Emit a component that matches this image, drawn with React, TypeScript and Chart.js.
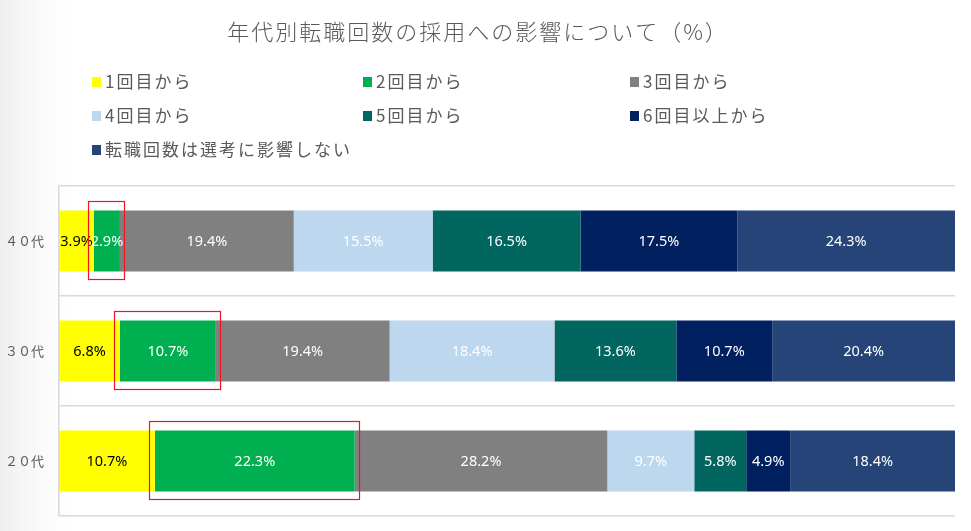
import React, { useEffect, useRef } from "react";
import { Chart, registerables } from "chart.js";

Chart.register(...registerables);

const titleText = "年代別転職回数の採用への影響について（%）";
const categories = ["４０代", "３０代", "２０代"];
const seriesNames = [
  "1回目から",
  "2回目から",
  "3回目から",
  "4回目から",
  "5回目から",
  "6回目以上から",
  "転職回数は選考に影響しない",
];
const series1 = [3.9, 6.8, 10.7];
const series2 = [2.9, 10.7, 22.3];
const series3 = [19.4, 19.4, 28.2];
const series4 = [15.5, 18.4, 9.7];
const series5 = [16.5, 13.6, 5.8];
const series6 = [17.5, 10.7, 4.9];
const series7 = [24.3, 20.4, 18.4];
const seriesValues = [series1, series2, series3, series4, series5, series6, series7];
const seriesColors = ["#FFFF00", "#00B050", "#808080", "#BDD7EE", "#00665F", "#002060", "#264478"];
const labelColors = ["#000000", "#FFFFFF", "#FFFFFF", "#FFFFFF", "#FFFFFF", "#FFFFFF", "#FFFFFF"];
const highlightedSeries = 1;

const JP = '"Noto Sans CJK JP", "Noto Sans", sans-serif';

const overlayPlugin = {
  id: "overlay",
  afterDatasetsDraw(chart: any) {
    const ctx = chart.ctx;
    ctx.save();
    // data labels
    ctx.font = '14.5px "Noto Sans", sans-serif';
    ctx.textAlign = "center";
    ctx.textBaseline = "middle";
    chart.data.datasets.forEach((ds: any, di: number) => {
      const meta = chart.getDatasetMeta(di);
      meta.data.forEach((bar: any, i: number) => {
        const v = ds.data[i];
        const cx = (bar.x + bar.base) / 2;
        ctx.fillStyle = labelColors[di];
        ctx.fillText(v.toFixed(1) + "%", cx, bar.y + 1);
      });
    });
    // red highlight rectangles
    const meta = chart.getDatasetMeta(highlightedSeries);
    ctx.strokeStyle = "#F0141E";
    ctx.lineWidth = 1.2;
    meta.data.forEach((bar: any) => {
      const left = Math.min(bar.x, bar.base) - 6;
      const right = Math.max(bar.x, bar.base) + 4;
      const top = bar.y - bar.height / 2 - 9;
      const bottom = bar.y + bar.height / 2 + 8;
      ctx.strokeRect(Math.round(left) + 0.5, Math.round(top) + 0.5, Math.round(right - left), Math.round(bottom - top));
    });
    ctx.restore();
  },
  afterDraw(chart: any) {
    const ctx = chart.ctx;
    ctx.save();
    ctx.fillStyle = "#595959";
    ctx.font = "300 22px " + JP;
    (ctx as any).letterSpacing = "2px";
    ctx.textAlign = "center";
    ctx.textBaseline = "middle";
    ctx.fillText(titleText, 478, 32);
    // legend
    const colX = [92, 363, 630];
    const rowY = [82, 116, 150];
    ctx.font = "17px " + JP;
    (ctx as any).letterSpacing = "2px";
    ctx.textAlign = "left";
    seriesNames.forEach((name, i) => {
      const x = colX[i % 3];
      const y = rowY[Math.floor(i / 3)];
      ctx.fillStyle = seriesColors[i];
      ctx.fillRect(x, y - 5, 9, 10);
      ctx.fillStyle = "#595959";
      ctx.fillText(name, x + 13, y);
    });
    ctx.restore();
  },
};

export default function App() {
  const ref = useRef<HTMLCanvasElement>(null);
  useEffect(() => {
    document.body.style.margin = "0";
    const chart = new Chart(ref.current!, {
      type: "bar",
      data: {
        labels: categories,
        datasets: seriesNames.map((name, i) => ({
          label: name,
          data: seriesValues[i],
          backgroundColor: seriesColors[i],
          borderWidth: 0,
          barPercentage: 0.555,
          categoryPercentage: 1,
        })),
      },
      options: {
        indexAxis: "y",
        responsive: false,
        animation: false,
        layout: { padding: { top: 186, bottom: 15, right: 16, left: 0 } },
        plugins: { legend: { display: false }, title: { display: false }, tooltip: { enabled: false } },
        scales: {
          x: { stacked: true, display: false, min: 0, max: 100 },
          y: {
            stacked: true,
            afterFit: (s: any) => {
              s.width = 59;
              s.paddingTop = 0;
              s.paddingBottom = 0;
            },
            grid: { offset: true, color: "#D9D9D9", lineWidth: 1.5, drawTicks: false },
            border: { display: true, color: "#D9D9D9", width: 1.5 },
            ticks: { color: "#595959", font: { size: 13, family: JP }, padding: 15 },
          },
        },
      },
      plugins: [overlayPlugin],
    } as any);
    return () => chart.destroy();
  }, []);
  return (
    <div
      style={{
        width: 971,
        height: 531,
        background: "linear-gradient(to right, #efefef 0px, #fafafa 40px, #ffffff 70px)",
      }}
    >
      <canvas ref={ref} width={971} height={531} style={{ display: "block" }} />
    </div>
  );
}
